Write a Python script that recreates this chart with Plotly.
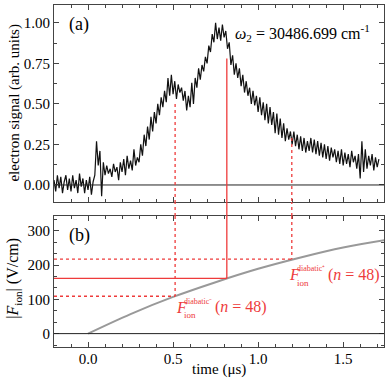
import plotly.graph_objects as go
from plotly.subplots import make_subplots

# (a) electron signal, step 0.01 us starting at -0.20
t_start = -0.20
t_step = 0.01
signal = [
    0.03, -0.04, 0.06, -0.02, 0.05, -0.05, 0.02, 0.06, -0.03, 0.04,
    -0.04, 0.06, -0.02, 0.03, -0.05, 0.07, -0.01, 0.04, -0.05, 0.03,
    -0.03, 0.05, -0.06, 0.02, 0.06, 0.27, 0.12, 0.21, -0.07, 0.14,
    0.06, 0.12, 0.07, 0.10, 0.05, 0.13, 0.08, 0.11, 0.03, 0.14,
    0.08, 0.16, 0.06, 0.18, 0.10, 0.15, 0.09, 0.22, 0.12, 0.17,
    0.14, 0.25, 0.18, 0.31, 0.24, 0.36, 0.28, 0.42, 0.33, 0.45,
    0.38, 0.50, 0.43, 0.54, 0.48, 0.58, 0.51, 0.66, 0.55, 0.68,
    0.56, 0.64, 0.53, 0.62, 0.57, 0.60, 0.52, 0.58, 0.46, 0.55,
    0.48, 0.63, 0.50, 0.66, 0.60, 0.72, 0.65, 0.74, 0.70, 0.79,
    0.75, 0.86, 0.82, 0.93, 0.88, 1.00, 0.90, 0.97, 0.89, 0.99,
    0.91, 0.95, 0.84, 0.88, 0.74, 0.80, 0.68, 0.75, 0.66, 0.72,
    0.61, 0.68, 0.57, 0.64, 0.55, 0.60, 0.50, 0.58, 0.49, 0.55,
    0.45, 0.54, 0.43, 0.51, 0.40, 0.50, 0.38, 0.48, 0.37, 0.45,
    0.32, 0.44, 0.31, 0.41, 0.29, 0.38, 0.27, 0.35, 0.28, 0.33,
    0.25, 0.33, 0.24, 0.31, 0.22, 0.30, 0.21, 0.29, 0.20, 0.27,
    0.21, 0.29, 0.20, 0.28, 0.19, 0.27, 0.18, 0.26, 0.17, 0.25,
    0.16, 0.24, 0.15, 0.23, 0.17, 0.22, 0.14, 0.21, 0.13, 0.22,
    0.12, 0.20, 0.13, 0.19, 0.11, 0.21, 0.14, 0.18, 0.10, 0.19,
    0.04, 0.27, 0.08, 0.22, 0.10, 0.18, 0.12, 0.19, 0.09, 0.17, 0.11, 0.16,
]
times = [t_start + i * t_step for i in range(len(signal))]

# (b) ion field ramp
ramp_t = [0.0, 0.25, 0.5, 0.75, 1.0, 1.25, 1.5, 1.75]
ramp_f = [0, 57, 107, 150, 189, 222, 251, 273]

# marker lines: time, field, signal at that time, dash
mark_t = [0.512, 0.816, 1.198]
mark_f = [109, 161, 217]
mark_s = [0.50, 0.78, 0.29]
mark_dash = ["dot", "solid", "dot"]

red = "#ee3b3b"
serif = "Liberation Serif"
xr = [-0.2, 1.74]
ya_r = [-0.105, 1.11]
yb_r = [-39, 343]
dom_a = [0.424, 1.0]
dom_b = [0.0, 0.383]

fig = make_subplots(rows=2, cols=1, shared_xaxes=True)

fig.add_trace(go.Scatter(x=times, y=signal, mode="lines",
                         line=dict(color="#111111", width=1.2)), row=1, col=1)
fig.add_trace(go.Scatter(x=ramp_t, y=ramp_f, mode="lines", line_shape="spline",
                         line=dict(color="#999999", width=2)), row=2, col=1)

# zero lines
fig.add_hline(y=0, line=dict(color="#222222", width=1), row=1, col=1)
fig.add_hline(y=0, line=dict(color="#222222", width=1), row=2, col=1)

for t, f, s, d in zip(mark_t, mark_f, mark_s, mark_dash):
    ln = dict(color=red, width=1.3, dash=d)
    fig.add_shape(type="line", xref="x", yref="y", x0=t, x1=t, y0=s, y1=ya_r[0], line=ln)
    fig.add_shape(type="line", xref="x2", yref="paper", x0=t, x1=t,
                  y0=dom_b[1], y1=dom_a[0], line=ln)
    fig.add_shape(type="line", xref="x2", yref="y2", x0=t, x1=t, y0=yb_r[1], y1=f, line=ln)
    fig.add_shape(type="line", xref="x2", yref="y2", x0=xr[0], x1=t, y0=f, y1=f, line=ln)

ann = []
txt = dict(family=serif, color="black")
ann.append(dict(xref="x domain", yref="y domain", x=0.04, y=0.9, text="(a)",
                showarrow=False, xanchor="left", yanchor="middle", font=dict(size=18, **txt)))
ann.append(dict(xref="x2 domain", yref="y2 domain", x=0.04, y=0.85, text="(b)",
                showarrow=False, xanchor="left", yanchor="middle", font=dict(size=18, **txt)))
ann.append(dict(xref="x domain", yref="y domain", x=0.964, y=0.86,
                text="<i>ω</i><sub>2</sub> = 30486.699 cm<sup>-1</sup>",
                showarrow=False, xanchor="right", yanchor="middle", font=dict(size=16, **txt)))

# axis titles
ann.append(dict(xref="paper", yref="paper", x=0.5, y=-0.066, text="time (μs)",
                showarrow=False, xanchor="center", yanchor="middle",
                font=dict(size=15, **txt)))
ann.append(dict(xref="paper", yref="paper", x=-0.121, y=(dom_a[0] + dom_a[1]) / 2,
                text="electron signal (arb. units)", textangle=-90,
                showarrow=False, xanchor="center", yanchor="middle",
                font=dict(size=15, **txt)))
ann.append(dict(xref="paper", yref="paper", x=-0.121, y=0.2,
                text="|<i>F</i><sub>ion</sub>| (V/cm)", textangle=-90,
                showarrow=False, xanchor="center", yanchor="middle",
                font=dict(size=16, **txt)))

# field labels, built from pieces so sub/sup stack
labels = [
    (0.506, 77, "diabatic⁻"),
    (1.17, 172, "diabatic⁺"),
]
rf = dict(family=serif, color=red)
for x0, y0, sup in labels:
    ann.append(dict(x=x0, y=y0, xref="x2", yref="y2", text="<i>F</i>", showarrow=False,
                    xanchor="left", yanchor="middle", font=dict(size=16, **rf)))
    ann.append(dict(x=x0, y=y0, xref="x2", yref="y2", text=sup, showarrow=False,
                    xanchor="left", yanchor="middle", xshift=8, yshift=6,
                    font=dict(size=8, **rf)))
    ann.append(dict(x=x0, y=y0, xref="x2", yref="y2", text="ion", showarrow=False,
                    xanchor="left", yanchor="middle", xshift=8, yshift=-8,
                    font=dict(size=9, **rf)))
    ann.append(dict(x=x0, y=y0, xref="x2", yref="y2", text="(<i>n</i> = 48)",
                    showarrow=False, xanchor="left", yanchor="middle", xshift=39,
                    font=dict(size=16, **rf)))

fig.update_layout(
    width=390, height=382,
    margin=dict(l=54, r=6, t=5, b=35, autoexpand=False),
    paper_bgcolor="white", plot_bgcolor="white",
    showlegend=False,
    font=dict(family=serif, size=15, color="black"),
    annotations=ann,
)

axis_common = dict(showline=True, linecolor="#444444", linewidth=1.2, mirror="allticks",
                   ticks="inside", ticklen=5, tickcolor="#444444", showgrid=False,
                   zeroline=False, automargin=False, tickfont=dict(family=serif, size=15))

fig.update_xaxes(range=xr, dtick=0.5, tick0=0, tickformat=".1f", domain=[0, 1],
                 ticklabelstandoff=-2,
                 minor=dict(ticks="inside", ticklen=3, dtick=0.1, tickcolor="#444444"),
                 **axis_common)
fig.update_xaxes(showticklabels=False, row=1, col=1)

fig.update_yaxes(range=ya_r, dtick=0.25, tickformat=".2f", domain=dom_a,
                 minor=dict(ticks="inside", ticklen=3, dtick=0.125, tickcolor="#444444"),
                 row=1, col=1, **axis_common)
fig.update_yaxes(range=yb_r, dtick=100, domain=dom_b,
                 minor=dict(ticks="inside", ticklen=3, dtick=100 / 3, tickcolor="#444444"),
                 row=2, col=1, **axis_common)

# the page body has a default margin; drop it so the figure sits at the window corner
fig.write_html("out.html", config={"displayModeBar": False},
               post_script="document.body.style.margin='0';")
